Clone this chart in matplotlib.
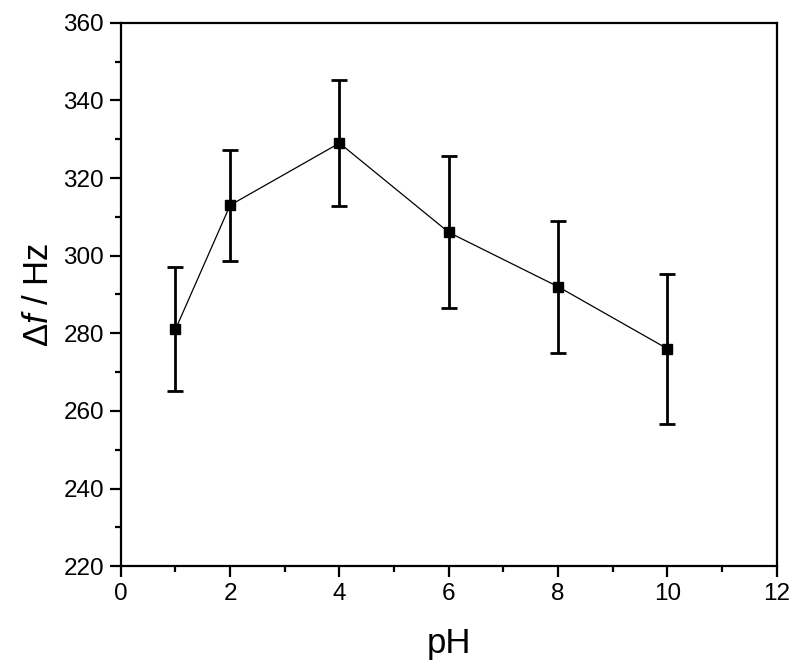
import matplotlib.pyplot as plt
from matplotlib.ticker import MultipleLocator

plt.rcParams['font.family'] = ['Liberation Sans', 'DejaVu Sans']
plt.rcParams['mathtext.fontset'] = 'custom'
plt.rcParams['mathtext.it'] = 'Liberation Sans:style=italic'
plt.rcParams['mathtext.rm'] = 'Liberation Sans'

# 데이터
ph = [1, 2, 4, 6, 8, 10]
delta_f = [281, 313, 329, 306, 292, 276]
err = [16, 14.3, 16.2, 19.6, 17, 19.3]

fig = plt.figure(figsize=(8, 6.7), dpi=100)
ax = fig.add_axes([0.151, 0.155, 0.82, 0.811])

ax.errorbar(ph, delta_f, yerr=err, fmt='s-', color='black', markersize=7,
            linewidth=0.9, elinewidth=2, capsize=6, capthick=2)

ax.set_xlim(0, 12)
ax.set_ylim(220, 360)
ax.xaxis.set_major_locator(MultipleLocator(2))
ax.xaxis.set_minor_locator(MultipleLocator(1))
ax.yaxis.set_major_locator(MultipleLocator(20))
ax.yaxis.set_minor_locator(MultipleLocator(10))

ax.tick_params(which='major', direction='out', length=8, width=1.6, labelsize=17.5, pad=4)
ax.tick_params(which='minor', direction='out', length=4, width=1.6)
for s in ax.spines.values():
    s.set_linewidth(1.6)

ax.set_xlabel('pH', fontsize=25, labelpad=16)
ax.set_ylabel(r'$\Delta\mathit{f}$ / Hz', fontsize=25, labelpad=6)

plt.savefig('out.png', dpi=100)
